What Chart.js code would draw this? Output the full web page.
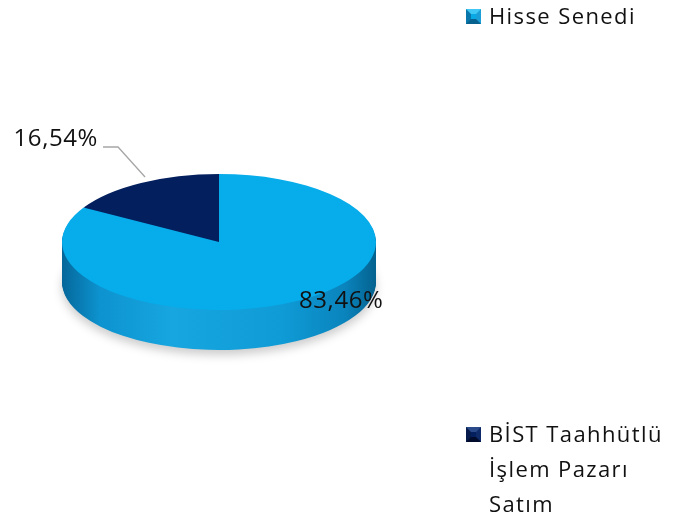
<!DOCTYPE html>
<html>
<head>
<meta charset="utf-8">
<script src="https://cdn.jsdelivr.net/npm/chart.js@4/dist/chart.umd.min.js"></script>
<style>
  html, body { margin: 0; padding: 0; background: #fff; }
  #wrap { position: relative; width: 678px; height: 518px; overflow: hidden; }
  .leg { position: absolute; left: 466px; width: 210px; font-family: 'Open Sans', sans-serif;
         font-size: 22px; letter-spacing: 1.4px; line-height: 35px; color: #111; }
  .leg .txt { margin-left: 23px; display: block; }
  .leg .mk { position: absolute; left: 0; top: 11px; width: 5px; height: 5px; border: 5px solid; }
</style>
</head>
<body>
<div id="wrap">
  <canvas id="chart" width="678" height="518"></canvas>
</div>
<script>
const labels = ['Hisse Senedi', 'BİST Taahhütlü İşlem Pazarı Satım'];
const shares = [83.46, 16.54];
const colors = ['#07acea', '#031f5e'];
const pctLabels = shares.map(v => v.toFixed(2).replace('.', ',') + '%');

const RY = 68;      // vertical radius of the tilted top face
const DEPTH = 40;   // thickness of the pie
const FONT = "'Open Sans', sans-serif";

// legend (html text)
const legendTops = [-2, 416];
const markerBorders = [
  ['#3fc8f6', '#1a9fd8', '#08628f', '#0a77ac', '#08aae6'],
  ['#2a4a8a', '#0f2a68', '#010c2c', '#061a4c', '#031f5e'],
];
labels.forEach((lab, i) => {
  const d = document.createElement('div');
  d.className = 'leg';
  d.style.top = legendTops[i] + 'px';
  const b = markerBorders[i];
  d.innerHTML = '<span class="mk" style="border-color:' + b[0] + ' ' + b[1] + ' ' + b[2] + ' ' + b[3] +
    ';background:' + b[4] + '"></span><span class="txt">' + lab + '</span>';
  document.getElementById('wrap').appendChild(d);
});

const tilt = {
  id: 'tilt',
  beforeDatasetsDraw(chart) {
    const ctx = chart.ctx;
    const meta = chart.getDatasetMeta(0);
    const a0 = meta.data[0];
    const cx = a0.x, cy = a0.y, r = a0.outerRadius;
    const sy = RY / r;
    ctx.save();
    ctx.translate(cx, cy);
    ctx.scale(1, sy);
    ctx.translate(-cx, -cy);

    const g = ctx.createLinearGradient(cx - r, 0, cx + r, 0);
    g.addColorStop(0, '#05679a');
    g.addColorStop(0.12, '#0d93cf');
    g.addColorStop(0.35, '#17a6e0');
    g.addColorStop(0.7, '#0f9bd6');
    g.addColorStop(0.9, '#0a84bd');
    g.addColorStop(1, '#04628f');

    for (let k = DEPTH; k >= 1; k--) {
      ctx.save();
      ctx.translate(0, k / sy);
      if (k === DEPTH) {
        ctx.shadowColor = 'rgba(0,0,0,0.2)';
        ctx.shadowBlur = 10;
        ctx.shadowOffsetY = 5;
      }
      meta.data.forEach(a => {
        const saved = a.options;
        a.options = Object.assign({}, saved, { backgroundColor: g, borderWidth: 0 });
        a.draw(ctx);
        a.options = saved;
      });
      ctx.restore();
    }
  },
  afterDatasetsDraw(chart) {
    chart.ctx.restore();
  },
  afterDraw(chart) {
    const ctx = chart.ctx;
    const meta = chart.getDatasetMeta(0);
    ctx.save();
    ctx.font = '24px ' + FONT;
    ctx.letterSpacing = '0.6px';
    ctx.fillStyle = '#111';
    meta.data.forEach((a, i) => {
      const mid = (a.startAngle + a.endAngle) / 2;
      const px = a.x + Math.cos(mid) * a.outerRadius;
      const py = a.y + Math.sin(mid) * RY;
      if (shares[i] > 50) {
        ctx.textAlign = 'left';
        ctx.textBaseline = 'middle';
        ctx.fillText(pctLabels[i], px + 2, py);
      } else {
        const sx = px + 4, sy2 = py - 6;
        const ex = sx - 27, ey = sy2 - 30;
        ctx.strokeStyle = '#a6a6a6';
        ctx.lineWidth = 1.3;
        ctx.beginPath();
        ctx.moveTo(sx, sy2);
        ctx.lineTo(ex, ey);
        ctx.lineTo(ex - 15, ey);
        ctx.stroke();
        ctx.textAlign = 'right';
        ctx.textBaseline = 'alphabetic';
        ctx.fillText(pctLabels[i], ex - 20, ey - 1);
      }
    });
    ctx.restore();
  }
};

new Chart(document.getElementById('chart').getContext('2d'), {
  type: 'pie',
  data: {
    labels: labels,
    datasets: [{
      data: shares,
      backgroundColor: colors,
      borderWidth: 0,
    }],
  },
  options: {
    responsive: false,
    animation: false,
    layout: { padding: { left: 62, right: 302, top: 85, bottom: 119 } },
    plugins: { legend: { display: false }, tooltip: { enabled: false } },
  },
  plugins: [tilt],
});
</script>
</body>
</html>
